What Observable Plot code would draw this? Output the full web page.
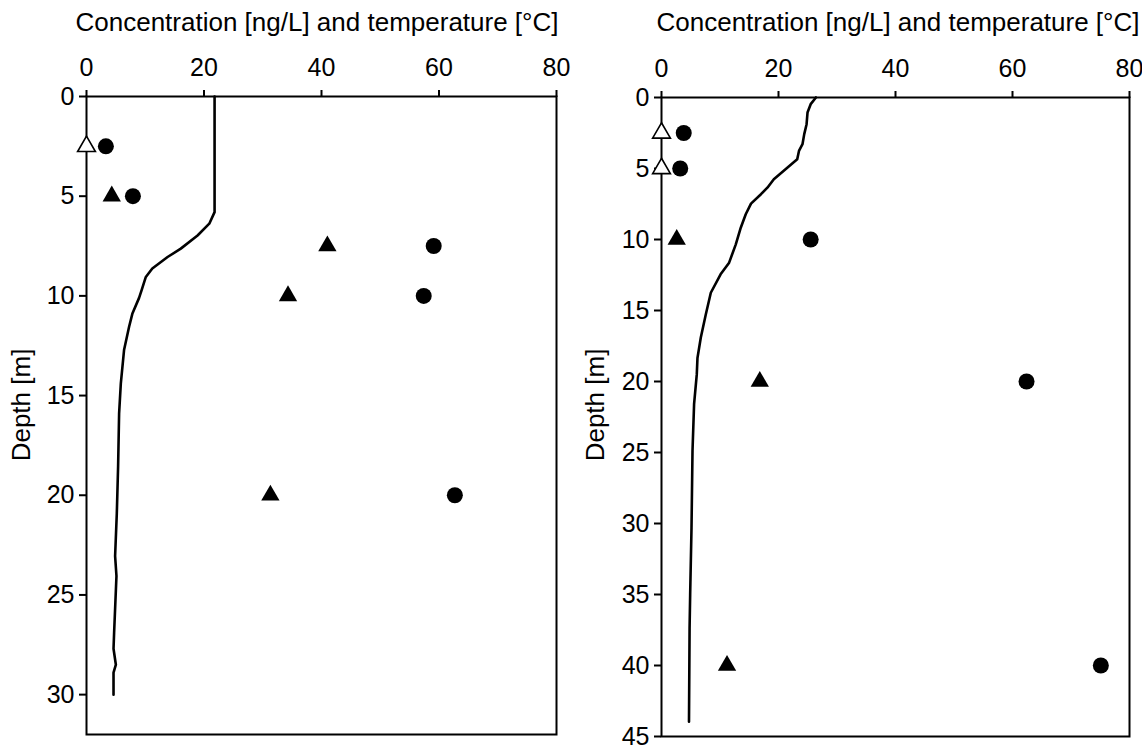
<!DOCTYPE html>
<html>
<head>
<meta charset="utf-8">
<script src="https://cdn.jsdelivr.net/npm/d3@7"></script>
<script src="https://cdn.jsdelivr.net/npm/@observablehq/plot@0.6"></script>
<style>
  html, body { margin: 0; padding: 0; background: #fff; }
  #wrap { display: flex; width: 1142px; height: 745px; overflow: hidden; }
</style>
</head>
<body>
<div id="wrap"></div>
<script>
// ---------- Data ----------
const xTicks = [0, 20, 40, 60, 80];
const axisTitle = "Concentration [ng/L] and temperature [°C]";
const depthTitle = "Depth [m]";

// Left panel
const leftYTicks = [0, 5, 10, 15, 20, 25, 30];
const leftCircleDepth = [2.5, 5, 7.5, 10, 20];
const leftCircleValue = [3.3, 7.9, 59.1, 57.4, 62.7];
const leftTriDepth = [5, 7.5, 10, 20];
const leftTriValue = [4.3, 41.0, 34.3, 31.3];
const leftOpenTriDepth = [2.5];
const leftOpenTriValue = [0];
const leftTempDepth = [0, 5.8, 6.38, 6.97, 7.63, 8.05, 8.63, 9.05, 9.7, 10.1, 10.9, 11.55, 12.7, 14.4, 15.9, 18.55, 20.9, 23.05, 24.05, 26.9, 27.7, 28.5, 28.9, 30.0];
const leftTempValue = [21.8, 21.8, 20.9, 18.9, 16.05, 13.8, 11.2, 10.1, 9.4, 8.95, 7.8, 7.25, 6.4, 5.84, 5.55, 5.38, 5.16, 4.87, 5.1, 4.7, 4.6, 5.0, 4.6, 4.6];

// Right panel
const rightYTicks = [0, 5, 10, 15, 20, 25, 30, 35, 40, 45];
const rightCircleDepth = [2.5, 5, 10, 20, 40];
const rightCircleValue = [3.8, 3.2, 25.5, 62.4, 75.1];
const rightTriDepth = [10, 20, 40];
const rightTriValue = [2.6, 16.8, 11.2];
const rightOpenTriDepth = [2.5, 5];
const rightOpenTriValue = [0, 0];
const rightTempDepth = [0, 0.47, 1.06, 1.88, 2.58, 3.29, 3.76, 4.35, 4.94, 5.76, 6.35, 6.81, 7.47, 8.22, 9.17, 10.34, 11.63, 12.45, 13.75, 15.28, 16.9, 18.34, 19.5, 21.6, 24.9, 30.3, 35.0, 37.4, 43.96];
const rightTempValue = [26.4, 25.5, 24.96, 24.8, 24.4, 24.1, 23.5, 23.2, 21.5, 19.2, 18.1, 17.0, 15.3, 14.4, 13.55, 12.7, 11.56, 10.1, 8.43, 7.57, 6.72, 6.15, 6.03, 5.57, 5.3, 5.13, 4.9, 4.8, 4.7];

const zip = (vals, deps) => vals.map((v, i) => ({v, d: deps[i]}));
const FONT = "'Liberation Sans', Arial, Helvetica, sans-serif";

function panel(o) {
  const svg = Plot.plot({
    width: o.width,
    height: 745,
    marginLeft: o.marginLeft,
    marginRight: o.marginRight,
    marginTop: o.marginTop,
    marginBottom: o.marginBottom,
    style: {fontFamily: FONT, fontSize: "25px", background: "white", color: "black", overflow: "visible"},
    x: {domain: [0, 80]},
    y: {domain: [0, o.yMax], reverse: true},
    marks: [
      Plot.frame({stroke: "black", strokeWidth: 2}),
      Plot.axisX({anchor: "top", ticks: xTicks, tickSize: 7, tickPadding: 14, label: null, strokeWidth: 2}),
      Plot.axisY({anchor: "left", ticks: o.yTicks, tickSize: 7, tickPadding: 5, label: null, strokeWidth: 2}),
      Plot.line(zip(o.tempV, o.tempD), {x: "v", y: "d", stroke: "black", strokeWidth: 2.6, curve: "linear"}),
      Plot.dot(zip(o.circV, o.circD), {x: "v", y: "d", r: 8, symbol: "circle", fill: "black", stroke: "none"}),
      Plot.dot(zip(o.triV, o.triD), {x: "v", y: "d", r: 6.8, symbol: "triangle", fill: "black", stroke: "none"}),
      Plot.dot(zip(o.openV, o.openD), {x: "v", y: "d", r: 6.6, symbol: "triangle", fill: "white", stroke: "black", strokeWidth: 1.6})
    ]
  });
  const s = d3.select(svg);
  s.append("text")
    .attr("x", o.titleX).attr("y", 24)
    .attr("text-anchor", "middle").attr("dominant-baseline", "middle")
    .attr("fill", "black").style("font-size", "26px").style("font-family", FONT)
    .text(axisTitle);
  s.append("text")
    .attr("transform", `translate(${o.labelX},405) rotate(-90)`)
    .attr("text-anchor", "middle").attr("dominant-baseline", "middle")
    .attr("fill", "black").style("font-size", "26px").style("font-family", FONT)
    .text(depthTitle);
  return svg;
}

const wrap = document.getElementById("wrap");
wrap.appendChild(panel({
  width: 580, marginLeft: 86, marginRight: 24, marginTop: 96, marginBottom: 11,
  yMax: 32, yTicks: leftYTicks, labelX: 23, titleX: 317,
  tempV: leftTempValue, tempD: leftTempDepth,
  circV: leftCircleValue, circD: leftCircleDepth,
  triV: leftTriValue, triD: leftTriDepth,
  openV: leftOpenTriValue, openD: leftOpenTriDepth
}));
wrap.appendChild(panel({
  width: 562, marginLeft: 81, marginRight: 13, marginTop: 97, marginBottom: 9,
  yMax: 45, yTicks: rightYTicks, labelX: 17, titleX: 318,
  tempV: rightTempValue, tempD: rightTempDepth,
  circV: rightCircleValue, circD: rightCircleDepth,
  triV: rightTriValue, triD: rightTriDepth,
  openV: rightOpenTriValue, openD: rightOpenTriDepth
}));
</script>
</body>
</html>
